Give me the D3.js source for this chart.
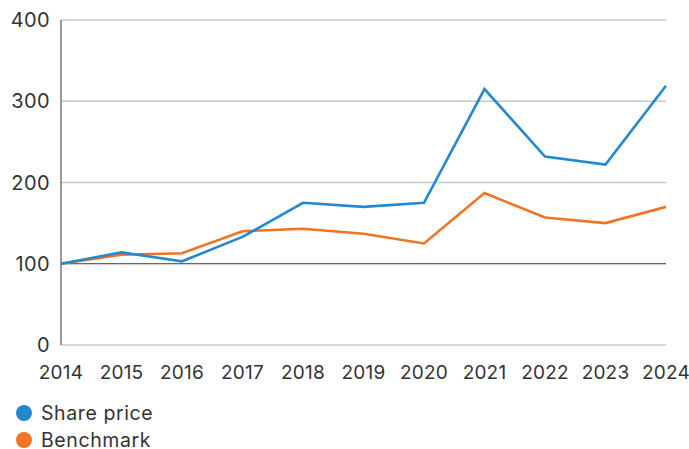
<!DOCTYPE html>
<html>
<head>
<meta charset="utf-8">
<script src="https://cdn.jsdelivr.net/npm/d3@7"></script>
<style>
  body { margin: 0; background: #fff; }
  svg { display: block; font-family: Inter, "Open Sans", sans-serif; }
</style>
</head>
<body>
<svg id="chart" width="689" height="449"></svg>
<script>
const years = [2014, 2015, 2016, 2017, 2018, 2019, 2020, 2021, 2022, 2023, 2024];
const sharePrice = [100, 114, 103, 133, 175, 170, 175, 315, 232, 222, 319];
const benchmark = [100, 111, 113, 140, 143, 137, 125, 187, 157, 150, 170];
const yTicks = [0, 100, 200, 300, 400];
const seriesNames = ['Share price', 'Benchmark'];
const seriesColors = ['#2389cf', '#ef7524'];

const svg = d3.select('#chart');
const margin = { top: 20, right: 23, bottom: 104, left: 61 };
const width = 689 - margin.left - margin.right;
const height = 449 - margin.top - margin.bottom;

const g = svg.append('g').attr('transform', `translate(${margin.left},${margin.top})`);

const x = d3.scalePoint().domain(years).range([0, width]);
const y = d3.scaleLinear().domain([0, 400]).range([height, 0]);

// gridlines
g.selectAll('.grid')
    .data(yTicks)
    .enter()
    .append('line')
    .attr('x1', 0)
    .attr('x2', width)
    .attr('y1', d => y(d))
    .attr('y2', d => y(d))
    .style('stroke', d => d === 100 ? '#333' : '#c8c8c8')
    .style('stroke-width', d => d === 100 ? 1.2 : 1.5);

// left axis line
g.append('line')
    .attr('x1', 0).attr('x2', 0)
    .attr('y1', y(400)).attr('y2', y(0))
    .style('stroke', '#777')
    .style('stroke-width', 1.5);

// y labels
g.selectAll('.ylab')
    .data(yTicks)
    .enter()
    .append('text')
    .attr('x', -11)
    .attr('y', d => y(d))
    .attr('dy', '0.36em')
    .attr('text-anchor', 'end')
    .style('font-size', '20px')
    .style('letter-spacing', '0.4px')
    .style('fill', '#333')
    .text(d => d);

// x labels
g.selectAll('.xlab')
    .data(years)
    .enter()
    .append('text')
    .attr('x', d => x(d))
    .attr('y', height + 34)
    .attr('text-anchor', 'middle')
    .style('font-size', '19px')
    .style('letter-spacing', '0.2px')
    .style('fill', '#333')
    .text(d => d);

// lines
const line = d3.line()
    .x((d, i) => x(years[i]))
    .y(d => y(d));

[benchmark, sharePrice].forEach((s, k) => {
    g.append('path')
        .datum(s)
        .attr('d', line)
        .style('fill', 'none')
        .style('stroke', k === 0 ? seriesColors[1] : seriesColors[0])
        .style('stroke-width', 2.6)
        .style('stroke-linejoin', 'miter');
});

// legend
const legend = svg.append('g').attr('transform', 'translate(24,413)');
seriesNames.forEach((name, i) => {
    const row = legend.append('g').attr('transform', `translate(0,${i * 27})`);
    row.append('circle').attr('r', 8).style('fill', seriesColors[i]);
    row.append('text')
        .attr('x', 17)
        .attr('dy', '0.34em')
        .style('font-size', '19.5px')
        .style('letter-spacing', '0.6px')
        .style('fill', '#333')
        .text(name);
});
</script>
</body>
</html>
